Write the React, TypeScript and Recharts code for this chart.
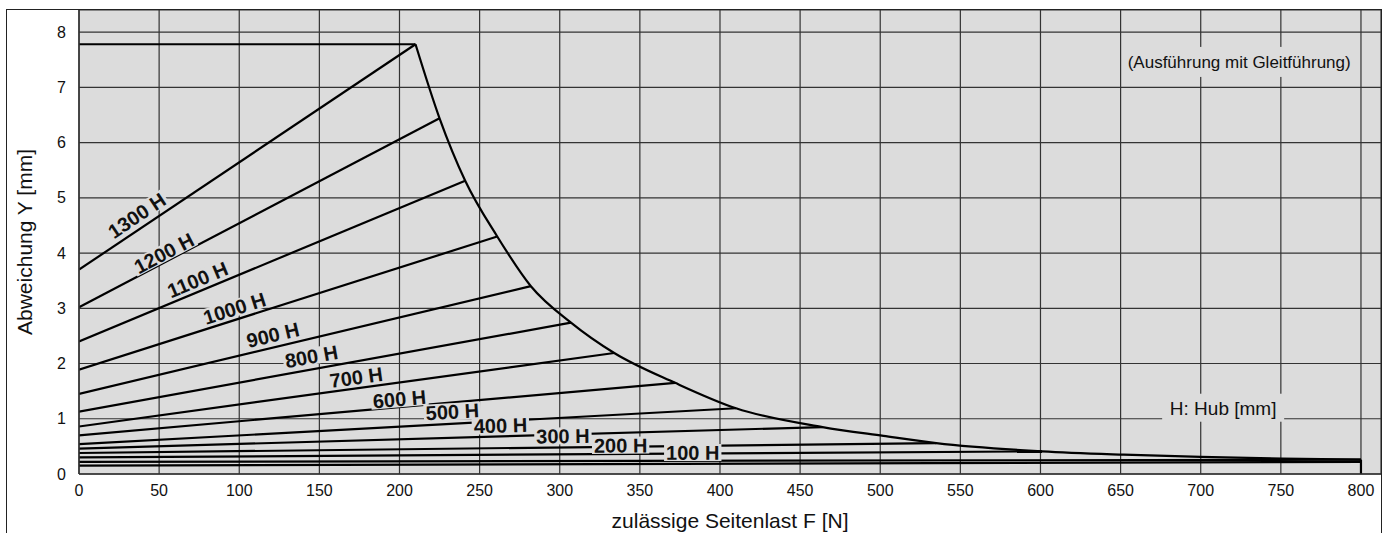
import { LineChart, Line, XAxis, YAxis, CartesianGrid, ReferenceDot, Label } from 'recharts';

// Hub (stroke) curves: start deflection at F=0, end point on the limit curve
const strokes = [1300, 1200, 1100, 1000, 900, 800, 700, 600, 500, 400, 300, 200, 100];
const startY = [3.7, 3.02, 2.4, 1.89, 1.45, 1.13, 0.86, 0.7, 0.54, 0.46, 0.38, 0.3, 0.22];
const endX = [210, 225, 241, 261, 282, 307, 334, 372, 410, 464, 535, 601, 800];
const endY = [7.78, 6.44, 5.31, 4.3, 3.4, 2.74, 2.19, 1.65, 1.19, 0.85, 0.56, 0.41, 0.26];

// label anchor points (data units)
const labelX = [36, 53, 74, 97, 121, 145, 173, 200, 233, 263, 302, 338, 383];
const labelY = [4.68, 4.0, 3.52, 3.0, 2.52, 2.13, 1.75, 1.36, 1.13, 0.88, 0.69, 0.52, 0.39];

// extra read points of the limit curve between the line ends
const curveX = [502, 652, 700, 751];
const curveY = [0.69, 0.35, 0.31, 0.28];

// lowest unlabeled line
const baseX = [0, 800];
const baseY = [0.15, 0.22];

const xTicks = [0, 50, 100, 150, 200, 250, 300, 350, 400, 450, 500, 550, 600, 650, 700, 750, 800];
const yTicks = [0, 1, 2, 3, 4, 5, 6, 7, 8];

const W = 1388;
const H = 533;
const M = { top: 10, right: 7, bottom: 0, left: 0 };
const Y_AXIS_W = 79;
const X_AXIS_H = 59;
const X_MAX = 812.5;
const Y_MAX = 8.4;
const PLOT_BG = '#dcdcdc';
const INK = '#111';
const LW = 2.2;

const plotW = W - M.left - M.right - Y_AXIS_W;
const plotH = H - M.top - M.bottom - X_AXIS_H;
const pxX = plotW / X_MAX;
const pxY = plotH / Y_MAX;

const hubLines = strokes.map((s, i) => ({
  name: `${s} H`,
  data: [
    { x: 0, y: startY[i] },
    { x: endX[i], y: endY[i] },
  ],
}));

const topLine = [
  { x: 0, y: endY[0] },
  { x: endX[0], y: endY[0] },
];

const limitCurve = [
  ...endX.map((x, i) => ({ x, y: endY[i] })),
  ...curveX.map((x, i) => ({ x, y: curveY[i] })),
].sort((a, b) => a.x - b.x);

const lastX = endX[endX.length - 1];
const dropLine = [
  { x: lastX, y: endY[endY.length - 1] },
  { x: lastX, y: 0 },
];

const baseLine = baseX.map((x, i) => ({ x, y: baseY[i] }));

function lineAngle(i: number) {
  const slope = ((endY[i] - startY[i]) * pxY) / (endX[i] * pxX);
  return (-Math.atan(slope) * 180) / Math.PI;
}

function StrokeLabel({ cx, cy, text, angle }: any) {
  const digits = text.length - 2;
  const fs = 20;
  const w = (digits * 0.556 + 1.0) * fs + 4;
  return (
    <g transform={`translate(${cx},${cy}) rotate(${angle})`}>
      <rect x={-w / 2} y={-8.5} width={w} height={17} fill={PLOT_BG} />
      <text textAnchor="middle" dy="0.36em" fontSize={fs} fontWeight="bold" fill={INK}>
        {text}
      </text>
    </g>
  );
}

function NoteLabel({ cx, cy, text, w, h, fs }: any) {
  return (
    <g transform={`translate(${cx},${cy})`}>
      <rect x={-w / 2} y={-h / 2} width={w} height={h} fill={PLOT_BG} />
      <text textAnchor="middle" dy="0.36em" fontSize={fs} fill={INK}>
        {text}
      </text>
    </g>
  );
}

export default function App() {
  return (
    <div
      style={{
        position: 'relative',
        width: W,
        height: H,
        overflow: 'hidden',
        fontFamily: '"Liberation Sans", Arial, Helvetica, sans-serif',
        background: '#fff',
      }}
    >
      <style>{'body{margin:0}'}</style>
      <LineChart width={W} height={H} margin={M}>
        <CartesianGrid stroke="#333" strokeWidth={1.2} fill={PLOT_BG} fillOpacity={1} />
        <XAxis
          type="number"
          dataKey="x"
          domain={[0, X_MAX]}
          ticks={xTicks}
          allowDataOverflow
          height={X_AXIS_H}
          tickLine={false}
          tickSize={0}
          tickMargin={11}
          axisLine={{ stroke: '#333', strokeWidth: 1.5 }}
          tick={{ fill: INK, fontSize: 16 }}
        >
          <Label value="zulässige Seitenlast F [N]" position="insideBottom" offset={5} fill={INK} fontSize={21} />
        </XAxis>
        <YAxis
          type="number"
          dataKey="y"
          domain={[0, Y_MAX]}
          ticks={yTicks}
          allowDataOverflow
          width={Y_AXIS_W}
          tickLine={false}
          tickSize={0}
          tickMargin={13}
          axisLine={{ stroke: '#333', strokeWidth: 1.5 }}
          tick={{ fill: INK, fontSize: 16 }}
        >
          <Label
            value="Abweichung Y [mm]"
            angle={-90}
            position="insideLeft"
            offset={25}
            fill={INK}
            fontSize={21}
            style={{ textAnchor: 'middle' }}
          />
        </YAxis>

        {hubLines.map((l) => (
          <Line
            key={l.name}
            data={l.data}
            dataKey="y"
            type="linear"
            stroke="#000"
            strokeWidth={LW}
            dot={false}
            activeDot={false}
            isAnimationActive={false}
          />
        ))}
        <Line data={baseLine} dataKey="y" type="linear" stroke="#000" strokeWidth={LW} dot={false} activeDot={false} isAnimationActive={false} />
        <Line data={topLine} dataKey="y" type="linear" stroke="#000" strokeWidth={LW} dot={false} activeDot={false} isAnimationActive={false} />
        <Line data={limitCurve} dataKey="y" type="monotone" stroke="#000" strokeWidth={LW} dot={false} activeDot={false} isAnimationActive={false} />
        <Line data={dropLine} dataKey="y" type="linear" stroke="#000" strokeWidth={LW} dot={false} activeDot={false} isAnimationActive={false} />

        {strokes.map((s, i) => (
          <ReferenceDot
            key={`lbl-${s}`}
            x={labelX[i]}
            y={labelY[i]}
            shape={(p: any) => <StrokeLabel cx={p.cx} cy={p.cy} text={`${s} H`} angle={lineAngle(i)} />}
          />
        ))}
        <ReferenceDot
          x={724}
          y={7.46}
          shape={(p: any) => <NoteLabel cx={p.cx} cy={p.cy} text="(Ausführung mit Gleitführung)" w={226} h={30} fs={17} />}
        />
        <ReferenceDot
          x={714}
          y={1.2}
          shape={(p: any) => <NoteLabel cx={p.cx} cy={p.cy} text="H: Hub [mm]" w={122} h={28} fs={19} />}
        />
      </LineChart>
      <div
        style={{
          position: 'absolute',
          left: 6,
          top: 9,
          width: 1376,
          height: 700,
          border: '1px solid #222',
          boxSizing: 'border-box',
          pointerEvents: 'none',
        }}
      />
    </div>
  );
}
